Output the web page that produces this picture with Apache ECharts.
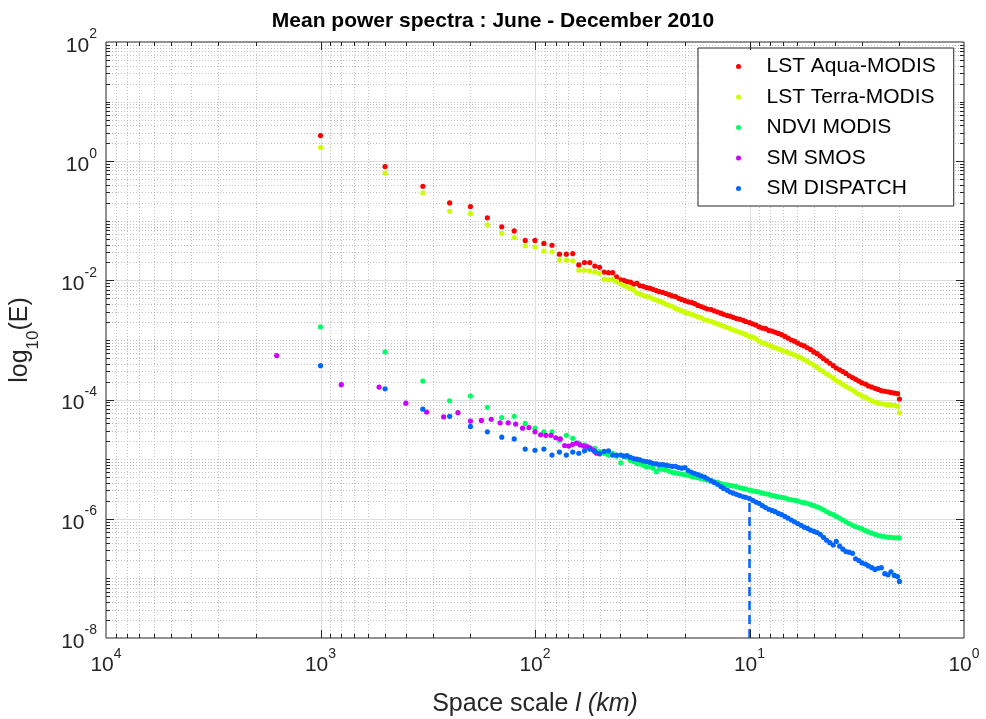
<!DOCTYPE html>
<html>
<head>
<meta charset="utf-8">
<script src="https://cdn.jsdelivr.net/npm/echarts@6/dist/echarts.min.js"></script>
<style>
html,body{margin:0;padding:0;background:#ffffff;}
#c{width:986px;height:719px;}
</style>
</head>
<body>
<div id="c"></div>
<script>
const FONT = '"Liberation Sans", Arial, Helvetica, sans-serif';
const INK = '#262626';

const titleText = 'Mean power spectra : June - December 2010';
const seriesNames = ['LST Aqua-MODIS', 'LST Terra-MODIS', 'NDVI MODIS', 'SM SMOS', 'SM DISPATCH'];
const seriesColors = ['#ff0000', '#ccff00', '#00ff66', '#cc00ff', '#0066ff'];

const xMin = 1, xMax = 10000;
const yMin = 1e-8, yMax = 1e2;
const xTickValues = [1, 10, 100, 1000, 10000];
const yTickValues = [1e-8, 1e-6, 1e-4, 1e-2, 1, 100];

// Space scales (km): first wavenumbers of the 1000 km domain
const scalesCoarse = [1000, 500, 333.3, 250, 200, 166.7, 142.9, 125, 111.1, 100,
  90.91, 83.33, 76.92, 71.43, 66.67, 62.5, 58.82, 55.56, 52.63, 50,
  47.62, 45.45, 43.48, 41.67];
// Space scales (km) of the dense part of the spectra
const scalesFine = [39.8, 38.5, 37.2, 35.9, 34.7, 33.5, 32.4, 31.3, 30.2, 29.2,
  28.2, 27.2, 26.3, 25.4, 24.5, 23.7, 22.9, 22.1, 21.4, 20.7,
  20.0, 19.3, 18.6, 18.0, 17.4, 16.8, 16.2, 15.7, 15.1, 14.6,
  14.1, 13.6, 13.2, 12.7, 12.3, 11.9, 11.5, 11.1, 10.7, 10.4,
  10.0, 9.66, 9.33, 9.02, 8.71, 8.41, 8.13, 7.85, 7.59, 7.33,
  7.08, 6.84, 6.61, 6.38, 6.17, 5.96, 5.75, 5.56, 5.37, 5.19,
  5.01, 4.84, 4.68, 4.52, 4.37, 4.22, 4.07, 3.94, 3.80, 3.67,
  3.55, 3.43, 3.31, 3.20, 3.09, 2.99, 2.88, 2.79, 2.69, 2.60,
  2.51, 2.43, 2.34, 2.26, 2.19, 2.11, 2.04, 2.0];
// Space scales (km) of SMOS (1600 km domain)
const scalesSMOS = [1600, 800, 533.3, 400, 320, 266.7, 228.6, 200, 177.8, 160,
  145.5, 133.3, 123.1, 114.3, 106.7, 100, 94.12, 88.89, 84.21, 80,
  76.19, 72.73, 69.57, 66.67, 64, 61.54, 59.26, 57.14, 55.17, 53.33,
  51.61, 50];

// log10(E) values
const aquaCoarse = [0.43, -0.09, -0.42, -0.70, -0.76, -0.95, -1.10, -1.17, -1.33, -1.33,
  -1.38, -1.41, -1.56, -1.56, -1.55, -1.74, -1.70, -1.70, -1.76, -1.78,
  -1.86, -1.87, -1.87, -1.94];
const aquaFine = [-1.99, -2.00, -2.02, -2.03, -2.06, -2.05, -2.09, -2.10, -2.12, -2.13,
  -2.15, -2.17, -2.19, -2.20, -2.22, -2.24, -2.26, -2.27, -2.30, -2.32,
  -2.34, -2.36, -2.37, -2.39, -2.42, -2.44, -2.46, -2.48, -2.49, -2.51,
  -2.53, -2.55, -2.57, -2.59, -2.60, -2.62, -2.64, -2.65, -2.67, -2.69,
  -2.71, -2.73, -2.75, -2.78, -2.80, -2.81, -2.84, -2.85, -2.87, -2.89,
  -2.91, -2.94, -2.97, -3.00, -3.02, -3.05, -3.08, -3.10, -3.13, -3.16,
  -3.20, -3.23, -3.27, -3.31, -3.35, -3.39, -3.43, -3.47, -3.50, -3.53,
  -3.56, -3.60, -3.63, -3.66, -3.69, -3.72, -3.74, -3.77, -3.79, -3.81,
  -3.83, -3.85, -3.86, -3.87, -3.88, -3.89, -3.90, -3.99];

const terraCoarse = [0.23, -0.20, -0.53, -0.84, -0.88, -1.07, -1.21, -1.28, -1.42, -1.44,
  -1.51, -1.52, -1.66, -1.66, -1.67, -1.83, -1.83, -1.84, -1.86, -1.88,
  -1.98, -1.99, -1.98, -2.02];
const terraFine = [-2.06, -2.09, -2.11, -2.13, -2.16, -2.21, -2.23, -2.25, -2.27, -2.28,
  -2.31, -2.33, -2.35, -2.37, -2.40, -2.42, -2.44, -2.47, -2.49, -2.51,
  -2.54, -2.55, -2.57, -2.59, -2.61, -2.63, -2.66, -2.67, -2.69, -2.71,
  -2.73, -2.75, -2.77, -2.79, -2.81, -2.83, -2.85, -2.87, -2.89, -2.91,
  -2.94, -2.95, -2.98, -3.02, -3.05, -3.06, -3.09, -3.11, -3.13, -3.15,
  -3.17, -3.19, -3.21, -3.23, -3.25, -3.28, -3.30, -3.33, -3.36, -3.39,
  -3.42, -3.46, -3.50, -3.53, -3.57, -3.60, -3.64, -3.68, -3.71, -3.75,
  -3.78, -3.81, -3.84, -3.88, -3.91, -3.94, -3.96, -3.99, -4.02, -4.04,
  -4.06, -4.07, -4.08, -4.09, -4.09, -4.10, -4.11, -4.22];

const ndviCoarse = [-2.78, -3.20, -3.69, -4.02, -3.94, -4.13, -4.30, -4.28, -4.40, -4.48,
  -4.54, -4.54, -4.68, -4.60, -4.65, -4.73, -4.76, -4.80, -4.82, -4.87,
  -4.90, -4.93, -4.90, -4.95];
const ndviFine = [-5.06, -4.95, -4.97, -5.02, -5.04, -5.07, -5.08, -5.10, -5.13, -5.12,
  -5.15, -5.21, -5.16, -5.17, -5.18, -5.20, -5.22, -5.23, -5.24, -5.25,
  -5.26, -5.27, -5.29, -5.30, -5.31, -5.33, -5.34, -5.35, -5.37, -5.38,
  -5.39, -5.41, -5.42, -5.43, -5.44, -5.45, -5.46, -5.48, -5.49, -5.50,
  -5.52, -5.53, -5.54, -5.55, -5.57, -5.58, -5.59, -5.61, -5.62, -5.63,
  -5.64, -5.65, -5.67, -5.68, -5.69, -5.70, -5.72, -5.73, -5.74, -5.76,
  -5.78, -5.80, -5.82, -5.85, -5.88, -5.91, -5.93, -5.96, -5.99, -6.02,
  -6.05, -6.08, -6.11, -6.13, -6.15, -6.17, -6.20, -6.22, -6.24, -6.26,
  -6.28, -6.29, -6.30, -6.31, -6.31, -6.32, -6.32, -6.32];

const smosValues = [-3.26, -3.75, -3.79, -4.06, -4.21, -4.29, -4.22, -4.36, -4.35, -4.33,
  -4.39, -4.39, -4.41, -4.48, -4.47, -4.54, -4.59, -4.60, -4.60, -4.64,
  -4.66, -4.77, -4.78, -4.75, -4.73, -4.76, -4.78, -4.79, -4.82, -4.85,
  -4.90, -4.91];

const dispatchCoarse = [-3.43, -3.82, -4.16, -4.28, -4.45, -4.54, -4.63, -4.66, -4.83, -4.85,
  -4.83, -4.93, -4.88, -4.93, -4.88, -4.90, -4.86, -4.83, -4.87, -4.90,
  -4.87, -4.86, -4.93, -4.93];
const dispatchFine = [-4.93, -4.95, -4.94, -4.97, -4.99, -5.00, -5.01, -5.03, -5.04, -5.05,
  -5.07, -5.08, -5.09, -5.09, -5.10, -5.11, -5.12, -5.12, -5.14, -5.15,
  -5.14, -5.19, -5.22, -5.24, -5.26, -5.28, -5.30, -5.33, -5.36, -5.39,
  -5.42, -5.46, -5.49, -5.52, -5.55, -5.57, -5.59, -5.61, -5.63, -5.64,
  -5.66, -5.69, -5.72, -5.74, -5.78, -5.81, -5.84, -5.86, -5.88, -5.91,
  -5.93, -5.96, -5.99, -6.02, -6.05, -6.08, -6.11, -6.14, -6.16, -6.19,
  -6.21, -6.23, -6.26, -6.31, -6.36, -6.40, -6.44, -6.38, -6.46, -6.51,
  -6.55, -6.56, -6.58, -6.67, -6.70, -6.74, -6.76, -6.79, -6.82, -6.85,
  -6.83, -6.82, -6.92, -6.94, -6.89, -6.95, -6.97, -7.05];

// Dashed marker at the 10 km scale
const cutoffScale = 10;
const cutoffLogE = -5.64;

function toPoints(scales, logE) {
  return scales.map((s, i) => [s, Math.pow(10, logE[i])]);
}
const scales1000 = scalesCoarse.concat(scalesFine);
const seriesData = [
  toPoints(scales1000, aquaCoarse.concat(aquaFine)),
  toPoints(scales1000, terraCoarse.concat(terraFine)),
  toPoints(scales1000, ndviCoarse.concat(ndviFine)),
  toPoints(scalesSMOS, smosValues),
  toPoints(scales1000, dispatchCoarse.concat(dispatchFine))
];

const expLabel = v => '{b|10}{s|' + Math.round(Math.log10(v)) + '}';
const tickRich = {
  b: { fontFamily: FONT, fontSize: 21, color: INK, lineHeight: 29, verticalAlign: 'bottom' },
  s: { fontFamily: FONT, fontSize: 14, color: INK, lineHeight: 14, verticalAlign: 'top' }
};

const series = seriesNames.map((name, i) => ({
  name: name,
  type: 'scatter',
  data: seriesData[i],
  symbol: 'circle',
  symbolSize: 5.2,
  silent: true,
  animation: false,
  itemStyle: { color: seriesColors[i], opacity: 1, borderWidth: 0 },
  z: 3
}));
series[4].markLine = {
  silent: true,
  animation: false,
  symbol: ['none', 'none'],
  label: { show: false },
  lineStyle: { color: seriesColors[4], width: 2.5, type: [9, 5], opacity: 1 },
  emphasis: { disabled: true },
  data: [[{ coord: [cutoffScale, yMin] }, { coord: [cutoffScale, Math.pow(10, cutoffLogE)] }]]
};

const option = {
  animation: false,
  backgroundColor: '#ffffff',
  textStyle: { fontFamily: FONT },
  title: {
    text: titleText,
    left: 'center',
    top: 6,
    textStyle: { fontFamily: FONT, fontSize: 21, fontWeight: 'bold', color: '#000000' }
  },
  legend: {
    data: seriesNames,
    orient: 'vertical',
    left: 698,
    top: 48,
    icon: 'circle',
    itemWidth: 46,
    itemHeight: 5,
    itemGap: 9.5,
    padding: [8, 18, 7, 38],
    selectedMode: false,
    backgroundColor: '#ffffff',
    borderColor: INK,
    borderWidth: 1,
    borderRadius: 0,
    textStyle: { fontFamily: FONT, fontSize: 21, color: '#000000', lineHeight: 21 }
  },
  grid: {
    left: 106, top: 42, right: 22, bottom: 81,
    show: true, borderColor: INK, borderWidth: 1, backgroundColor: 'transparent',
    containLabel: false,
    outerBoundsMode: 'none'
  },
  xAxis: {
    type: 'log', logBase: 10, min: xMin, max: xMax, inverse: true,
    axisLine: { show: false }, axisTick: { show: false },
    splitLine: { show: false }, minorTick: { show: false }, minorSplitLine: { show: false },
    axisLabel: {
      customValues: xTickValues,
      margin: 9,
      formatter: expLabel,
      rich: tickRich
    },
    name: '{n|Space scale }{i|l (km)}',
    nameLocation: 'middle',
    nameGap: 54,
    nameTextStyle: {
      rich: {
        n: { fontFamily: FONT, fontSize: 25, color: INK },
        i: { fontFamily: FONT, fontSize: 25, color: INK, fontStyle: 'italic' }
      }
    }
  },
  yAxis: {
    type: 'log', logBase: 10, min: yMin, max: yMax,
    axisLine: { show: false }, axisTick: { show: false },
    splitLine: { show: false }, minorTick: { show: false }, minorSplitLine: { show: false },
    axisLabel: {
      customValues: yTickValues,
      margin: 9,
      formatter: expLabel,
      rich: tickRich
    },
    name: '{a|log}{d|10}{a|(E)}',
    nameLocation: 'middle',
    nameGap: 64,
    nameTextStyle: {
      rich: {
        a: { fontFamily: FONT, fontSize: 25, color: INK, lineHeight: 34, verticalAlign: 'top' },
        d: { fontFamily: FONT, fontSize: 17, color: INK, lineHeight: 17, verticalAlign: 'bottom' }
      }
    }
  },
  series: series
};

const chart = echarts.init(document.getElementById('c'), null, { renderer: 'canvas' });
chart.setOption(option);

// Grid lines and inside ticks in the MATLAB style, placed through the axis scales
(function decorate() {
  const X = v => chart.convertToPixel({ xAxisIndex: 0 }, v);
  const Y = v => chart.convertToPixel({ yAxisIndex: 0 }, v);
  const xl = Math.round(X(xMax)), xr = Math.round(X(xMin));
  const yt = Math.round(Y(yMax)), yb = Math.round(Y(yMin));
  const els = [];
  const minorStyle = { stroke: '#c4c4c4', lineWidth: 1, lineDash: [1, 2] };
  const majorStyle = { stroke: '#dedede', lineWidth: 1 };
  const tickStyle = { stroke: INK, lineWidth: 1 };
  function line(x1, y1, x2, y2, style, z) {
    els.push({ type: 'line', silent: true, z: z, shape: { x1: x1, y1: y1, x2: x2, y2: y2 }, style: style });
  }
  for (let n = 0; n <= 3; n++) {
    for (let m = 1; m <= 9; m++) {
      const v = m * Math.pow(10, n);
      if (v <= xMin || v >= xMax) continue;
      const x = Math.round(X(v)) + 0.5;
      const major = (m === 1);
      line(x, yt, x, yb, major ? majorStyle : minorStyle, major ? 1 : 0);
      const L = major ? 8 : 4;
      line(x, yb, x, yb - L, tickStyle, 5);
      line(x, yt, x, yt + L, tickStyle, 5);
    }
  }
  for (let n = -8; n <= 1; n++) {
    for (let m = 1; m <= 9; m++) {
      const v = m * Math.pow(10, n);
      if (v <= yMin * 1.0001 || v >= yMax * 0.9999) continue;
      const y = Math.round(Y(v)) + 0.5;
      const major = (m === 1 && n % 2 === 0);
      line(xl, y, xr, y, major ? majorStyle : minorStyle, major ? 1 : 0);
      const L = major ? 8 : 4;
      line(xl, y, xl + L, y, tickStyle, 5);
      line(xr, y, xr - L, y, tickStyle, 5);
    }
  }
  chart.setOption({ graphic: { elements: els } });
})();
</script>
</body>
</html>
